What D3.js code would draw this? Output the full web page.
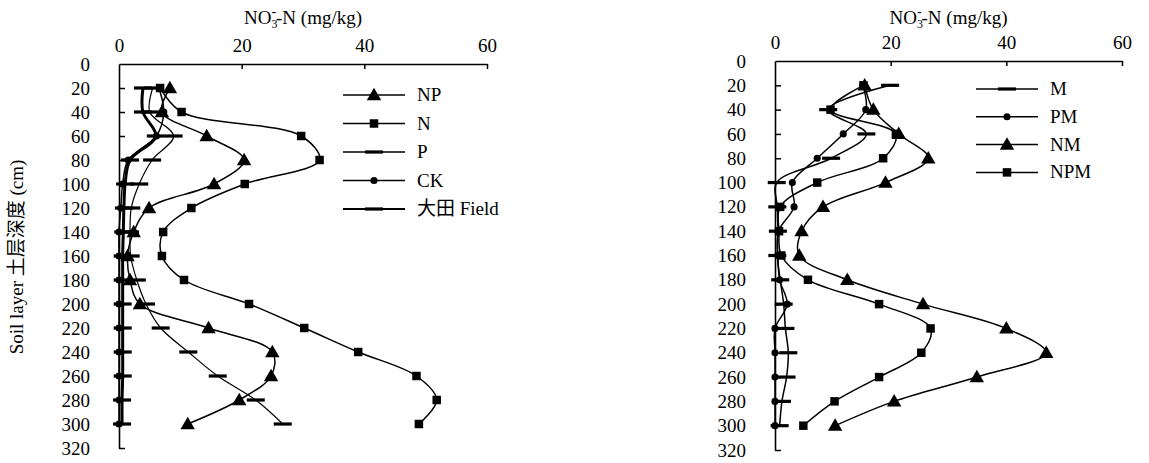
<!DOCTYPE html>
<html>
<head>
<meta charset="utf-8">
<script src="https://cdn.jsdelivr.net/npm/d3@7/dist/d3.min.js"></script>
<style>
 body{margin:0;background:#fff;}
 text{font-family:"Liberation Serif","Noto Sans CJK SC",serif;fill:#000;}
</style>
</head>
<body>
<div id="chart"></div>
<script>
// depths (cm)
var depths = [20,40,60,80,100,120,140,160,180,200,220,240,260,280,300];
var xTicks = [0,20,40,60];
var yTicks = [0,20,40,60,80,100,120,140,160,180,200,220,240,260,280,300,320];

// left panel, NO3-N mg/kg
var NP    = [8.3,7.0,14.3,20.4,15.5,4.9,2.4,1.4,1.8,3.4,14.6,25.0,24.8,19.6,11.2];
var N     = [6.7,10.2,29.7,32.7,20.5,11.8,7.2,7.0,10.6,21.2,30.2,39.0,48.5,51.8,48.9];
var P     = [5.5,5.0,8.9,5.4,3.3,2.0,1.8,1.9,2.9,4.4,6.8,11.3,16.1,22.3,26.7];
var CK    = [6.5,7.3,6.1,1.5,0.6,0.3,0,0,0,0,0,0,0,0,0];
var Field = [3.9,3.9,6.0,1.8,1.0,0.8,0.7,0.6,0.6,0.6,0.6,0.6,0.6,0.5,0.5];

// right panel
var M   = [19.9,9.2,15.8,9.7,0.3,0.4,0.5,0.4,0.9,1.5,1.8,2.3,2.0,1.2,0.8];
var PM  = [15.2,15.7,11.8,7.3,3.0,3.3,0.6,0.5,0.8,2.1,0,0,0,0,0];
var NM  = [15.5,17.0,21.4,26.5,19.1,8.3,4.6,4.2,12.5,25.6,40.0,46.9,34.9,20.6,10.4];
var NPM = [15.3,9.6,20.9,18.7,7.3,0.9,0.7,1.1,5.7,18.0,26.9,25.3,18.0,10.3,4.9];

var svg = d3.select("#chart").append("svg")
  .attr("width",1149)
  .attr("height",463);

function marker(g, type, x, y){
  if(type=="dash"){
    g.append("rect").attr("x",x-9).attr("y",y-1.6).attr("width",18).attr("height",3.2).attr("fill","#000");
  } else {
    var sym = type=="tri" ? d3.symbolTriangle : type=="sq" ? d3.symbolSquare : d3.symbolCircle;
    var size = type=="tri" ? 90 : type=="sq" ? 72 : 40;
    g.append("path").attr("d",d3.symbol(sym).size(size)())
      .attr("transform","translate("+x+","+(type=="tri"?y+1:y)+")")
      .attr("fill","#000");
  }
}

function panel(p){
  var x = d3.scaleLinear().domain([0,60]).range([p.x0,p.x1]);
  var y = d3.scaleLinear().domain([0,320]).range([p.y0,p.y1]);
  var g = svg.append("g");

  // axes: top x, left y, ticks inward
  var xa = g.append("g").attr("transform","translate(0,"+p.y0+")")
    .call(d3.axisTop(x).tickValues(xTicks).tickSize(-5).tickSizeOuter(0).tickPadding(12));
  var ya = g.append("g").attr("transform","translate("+p.x0+",0)")
    .call(d3.axisLeft(y).tickValues(yTicks).tickSize(-6).tickSizeOuter(0).tickPadding(29));
  g.selectAll(".domain").attr("stroke","#000").attr("stroke-width",1.6);
  g.selectAll(".tick line").attr("stroke","#000").attr("stroke-width",1.5);
  g.selectAll(".tick text").style("font-family","Liberation Serif").style("font-size","19px").attr("fill","#000");
  ya.selectAll(".tick").filter(function(d){return d==0;}).select("line").remove();
  xa.selectAll(".tick").filter(function(d){return d==0;}).select("line").remove();

  // title NO3- -N
  var t = g.append("text").attr("x",(p.x0+p.x1)/2).attr("y",24)
    .attr("text-anchor","middle").style("font-size","19px");
  t.append("tspan").text("NO");
  t.append("tspan").text("3").attr("dy",4).style("font-size","12px");
  t.append("tspan").text("-").attr("dx",-6).attr("dy",-12).style("font-size","14px");
  t.append("tspan").text("-N (mg/kg)").attr("dy",8);

  var line = d3.line()
    .x(function(d){ return x(d[0]); })
    .y(function(d){ return y(d[1]); })
    .curve(d3.curveCatmullRom.alpha(0.5));

  p.series.forEach(function(s, i){
    var pts = s.values.map(function(v,j){ return [v, depths[j]]; });
    g.append("path").attr("d",line(pts)).attr("fill","none")
      .attr("stroke","#000").attr("stroke-width",s.w);
    pts.forEach(function(pt){ marker(g, s.mk, x(pt[0]), y(pt[1])); });

    // legend
    var ly = p.ly + i*p.lstep;
    g.append("line").attr("x1",p.lx).attr("x2",p.lx+62).attr("y1",ly).attr("y2",ly)
      .attr("stroke","#000").attr("stroke-width",s.w>2?2.2:1.5);
    marker(g, s.mk, p.lx+31, ly);
    g.append("text").attr("x",p.lx+74).attr("y",ly+6).style("font-size","19px").text(s.name);
  });
}

panel({x0:119,x1:487,y0:64,y1:448,lx:343,ly:95,lstep:28.5,series:[
  {name:"NP",values:NP,mk:"tri",w:1.5},
  {name:"N",values:N,mk:"sq",w:1.5},
  {name:"P",values:P,mk:"dash",w:1.2},
  {name:"CK",values:CK,mk:"circle",w:1.5},
  {name:"大田 Field",values:Field,mk:"dash",w:3}
]});

panel({x0:775,x1:1122,y0:61,y1:450,lx:976,ly:89,lstep:27.8,series:[
  {name:"M",values:M,mk:"dash",w:1.5},
  {name:"PM",values:PM,mk:"circle",w:1.5},
  {name:"NM",values:NM,mk:"tri",w:1.5},
  {name:"NPM",values:NPM,mk:"sq",w:1.5}
]});

svg.append("text")
  .attr("transform","translate(23,257) rotate(-90)")
  .attr("text-anchor","middle").style("font-size","19px")
  .text("Soil layer 土层深度 (cm)");
</script>
</body>
</html>
